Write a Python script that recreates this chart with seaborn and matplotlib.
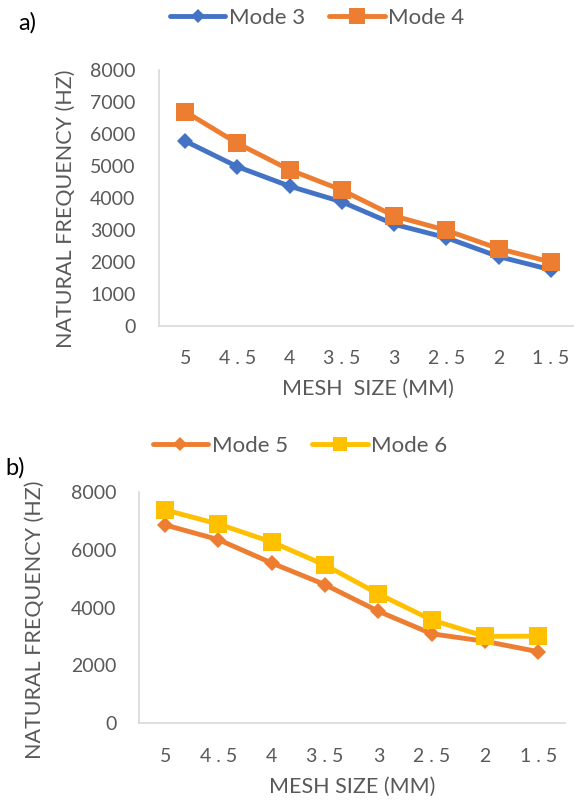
import pandas as pd
import matplotlib
matplotlib.use("Agg")
import matplotlib.pyplot as plt
import seaborn as sns

# Data
mesh_size = ["5", "4.5", "4", "3.5", "3", "2.5", "2", "1.5"]
mode3 = [5780, 4980, 4370, 3880, 3180, 2760, 2170, 1760]
mode4 = [6700, 5710, 4880, 4250, 3440, 2990, 2420, 2000]
mode5 = [6860, 6350, 5540, 4790, 3870, 3090, 2830, 2470]
mode6 = [7380, 6890, 6270, 5470, 4470, 3570, 3000, 3010]

top_yticks = [0, 1000, 2000, 3000, 4000, 5000, 6000, 7000, 8000]
bottom_yticks = [0, 2000, 4000, 6000, 8000]

sns.set_theme(style="white")
plt.rcParams["font.family"] = ["Lato", "DejaVu Sans"]

grey = "#595959"
spine_col = "#D9D9D9"

fig = plt.figure(figsize=(5.74, 8.02), dpi=100)
ax1 = fig.add_axes([0.277, 0.5935, 0.728, 0.3192])
ax2 = fig.add_axes([0.2413, 0.0985, 0.743, 0.288])


def draw_series(ax, values, label, color, marker, ms):
    df = pd.DataFrame({"mesh": mesh_size, "freq": values})
    sns.lineplot(data=df, x="mesh", y="freq", ax=ax, color=color,
                 marker=marker, markersize=ms, markeredgewidth=0,
                 linewidth=3.5, sort=False, label=label)


draw_series(ax1, mode3, "Mode 3", "#4472C4", "D", 8.5)
draw_series(ax1, mode4, "Mode 4", "#ED7D31", "s", 13)
draw_series(ax2, mode5, "Mode 5", "#ED7D31", "D", 8.5)
draw_series(ax2, mode6, "Mode 6", "#FFC000", "s", 12.5)

# Excel-style spaced tick labels, e.g. "4 . 5"
spaced = [" . ".join(m.split(".")) for m in mesh_size]

for ax, yt, ypad, xpad in [(ax1, top_yticks, 17, 17), (ax2, bottom_yticks, 16, 18)]:
    ax.set_xlim(-0.5, 7.5)
    ax.set_ylim(0, 8000)
    ax.set_yticks(yt)
    ax.set_yticklabels([str(v) for v in yt])
    ax.set_xticks(range(len(mesh_size)))
    ax.set_xticklabels(spaced)
    ax.tick_params(axis="both", length=0, labelsize=14, labelcolor=grey)
    ax.tick_params(axis="y", pad=ypad)
    ax.tick_params(axis="x", pad=xpad)
    for s in ["top", "right"]:
        ax.spines[s].set_visible(False)
    for s in ["left", "bottom"]:
        ax.spines[s].set_color(spine_col)
        ax.spines[s].set_linewidth(1.2)
    ax.get_legend().remove()

ax1.set_xlabel("MESH  SIZE (MM)", fontsize=15.5, color=grey)
ax2.set_xlabel("MESH SIZE (MM)", fontsize=15.5, color=grey)
ax1.set_ylabel("NATURAL FREQUENCY (HZ)", fontsize=15.5, color=grey)
ax2.set_ylabel("NATURAL FREQUENCY (HZ)", fontsize=15.5, color=grey)
ax1.xaxis.set_label_coords(0.5, -0.205)
ax2.xaxis.set_label_coords(0.5, -0.232)
ax1.yaxis.set_label_coords(-0.2, 0.46)
ax2.yaxis.set_label_coords(-0.22, 0.446)

# Legends above each panel
for ax, pos in [(ax1, (317 / 574, 1 - 18 / 802)), (ax2, (300 / 574, 1 - 446 / 802))]:
    h, l = ax.get_legend_handles_labels()
    leg = fig.legend(h, l, loc="center", bbox_to_anchor=pos, ncol=2,
                     frameon=False, fontsize=16, handlelength=2.5,
                     handletextpad=0.15, columnspacing=1.1, markerscale=0.85)
    for t in leg.get_texts():
        t.set_color(grey)

fig.text(18 / 574, 1 - 23 / 802, "a)", fontsize=17, color="black", va="center")
fig.text(5 / 574, 1 - 468 / 802, "b)", fontsize=17, color="black", va="center")

fig.savefig("out.png", dpi=100)
